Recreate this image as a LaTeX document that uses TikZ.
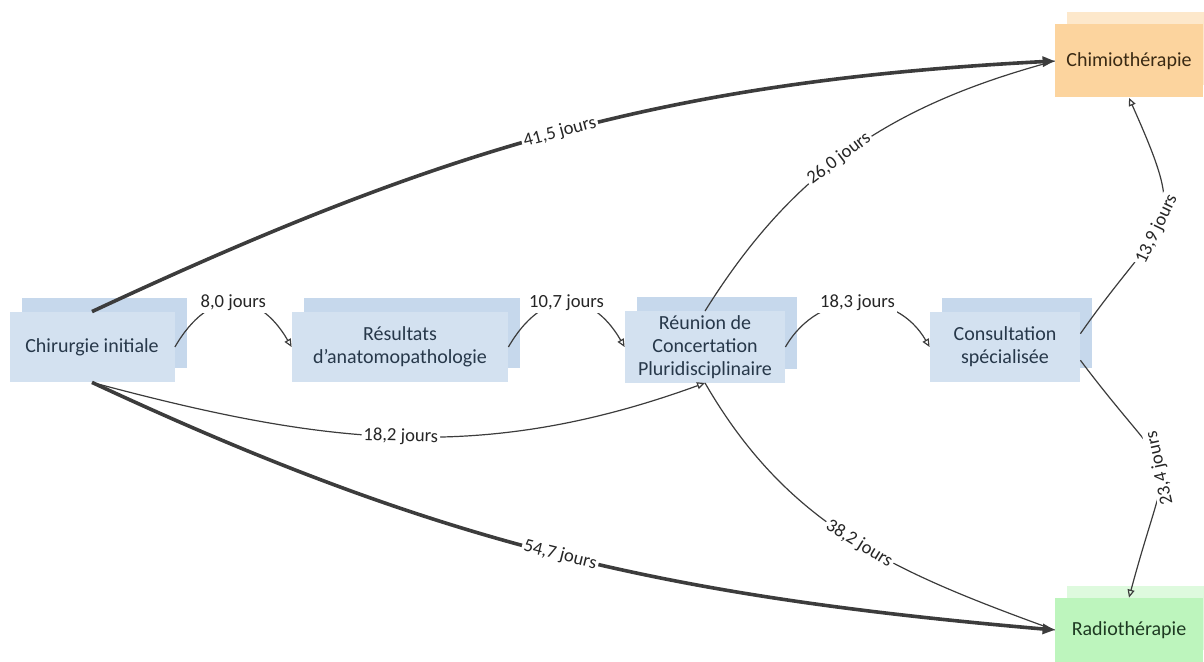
\documentclass[tikz,border=0pt]{standalone}
\usepackage{fontspec}
\setmainfont{Carlito}
\usepackage{tikz}
\usetikzlibrary{arrows.meta, shadows}
\usepackage{xcolor}
\definecolor{StepBlue}{HTML}{D3E1F0}
\definecolor{StepBlueBack}{HTML}{C6D8EC}
\definecolor{StepText}{HTML}{27384A}
\definecolor{ChimioOrange}{HTML}{FCD49E}
\definecolor{ChimioBack}{HTML}{FDE8CB}
\definecolor{ChimioText}{HTML}{3A2A14}
\definecolor{RadioGreen}{HTML}{BDF5BD}
\definecolor{RadioBack}{HTML}{DEFADE}
\definecolor{RadioText}{HTML}{1E3A22}
\definecolor{LinkGray}{HTML}{3C3C3C}

\begin{document}
\begin{tikzpicture}[x=0.5pt, y=-0.5pt,
  boite/.style={align=center, font=\fontsize{10}{11.5}\selectfont,
    minimum height=35pt, inner sep=2pt},
  etape/.style={boite, fill=StepBlue, text=StepText,
    copy shadow={shadow xshift=6pt, shadow yshift=7pt, fill=StepBlueBack, draw=none}},
  chimiobox/.style={boite, fill=ChimioOrange, text=ChimioText,
    copy shadow={shadow xshift=6pt, shadow yshift=6pt, fill=ChimioBack, draw=none}},
  radiobox/.style={boite, fill=RadioGreen, text=RadioText,
    copy shadow={shadow xshift=6pt, shadow yshift=6pt, fill=RadioBack, draw=none}},
  lien/.style={draw=LinkGray, line width=0.6pt},
  fin/.style={lien, -{Triangle[open, length=4pt, width=3.5pt]}},
  epais/.style={draw=LinkGray, line width=1.8pt, -{Triangle[length=6pt, width=5pt]}},
  lbl/.style={fill=white, inner sep=1pt, text=black!85,
    font=\fontsize{9.3}{11}\selectfont}]

\useasboundingbox (0,0) rectangle (1204,662);

% ── Etapes ────────────────────────────────────────────────────────────────────
\node[etape, minimum width=82.5pt] (chir)    at (92,347)   {Chirurgie initiale};
\node[etape, minimum width=108pt]  (resul)   at (400,347)  {Résultats\\d’anatomopathologie};
\node[etape, minimum width=80pt]   (rcp)     at (705,347)  {Réunion de\\Concertation\\Pluridisciplinaire};
\node[etape, minimum width=75pt]   (consult) at (1005,347) {Consultation\\spécialisée};

% ── Traitements ───────────────────────────────────────────────────────────────
\node[chimiobox, minimum width=74pt, minimum height=36.5pt] (chimio) at (1129,61)  {Chimiothérapie};
\node[radiobox,  minimum width=74pt, minimum height=32pt]   (radio)  at (1129,630) {Radiothérapie};

% ── Délais entre étapes ───────────────────────────────────────────────────────
\draw[fin] (chir.east) to[out=60, in=120, looseness=1.5]
  node[lbl] {8,0 jours} (resul.west);
\draw[fin] (resul.east) to[out=60, in=120, looseness=1.5]
  node[lbl] {10,7 jours} (rcp.west);
\draw[fin] (rcp.east) to[out=60, in=120, looseness=1.2]
  node[lbl] {18,3 jours} (consult.west);
\draw[fin] (chir.south) to[out=-15, in=-160]
  node[lbl, sloped] {18,2 jours} (rcp.south);

% ── Délais vers traitement ────────────────────────────────────────────────────
\draw[lien] (rcp.north) to[out=58, in=195]
  node[lbl, sloped, pos=0.46] {26,0 jours} (chimio.west);
\draw[lien] (rcp.south) to[out=-60, in=160]
  node[lbl, sloped, pos=0.52] {38,2 jours} (radio.west);
\draw[fin] (consult.10) to[out=55, in=-66, looseness=1.6]
  node[lbl, sloped, pos=0.45] {13,9 jours} (chimio.south);
\draw[{Triangle[open, length=4pt, width=3.5pt]}-, lien] (radio.north) to[out=75, in=-53, looseness=1.8]
  node[lbl, sloped, allow upside down] {23,4 jours} (consult.-10);

\draw[epais] (chir.north) to[out=25, in=-177]
  node[lbl, sloped, pos=0.5] {41,5 jours} (chimio.west);
\draw[epais] (chir.south) to[out=-25, in=175]
  node[lbl, sloped] {54,7 jours} (radio.west);

\end{tikzpicture}
\end{document}
